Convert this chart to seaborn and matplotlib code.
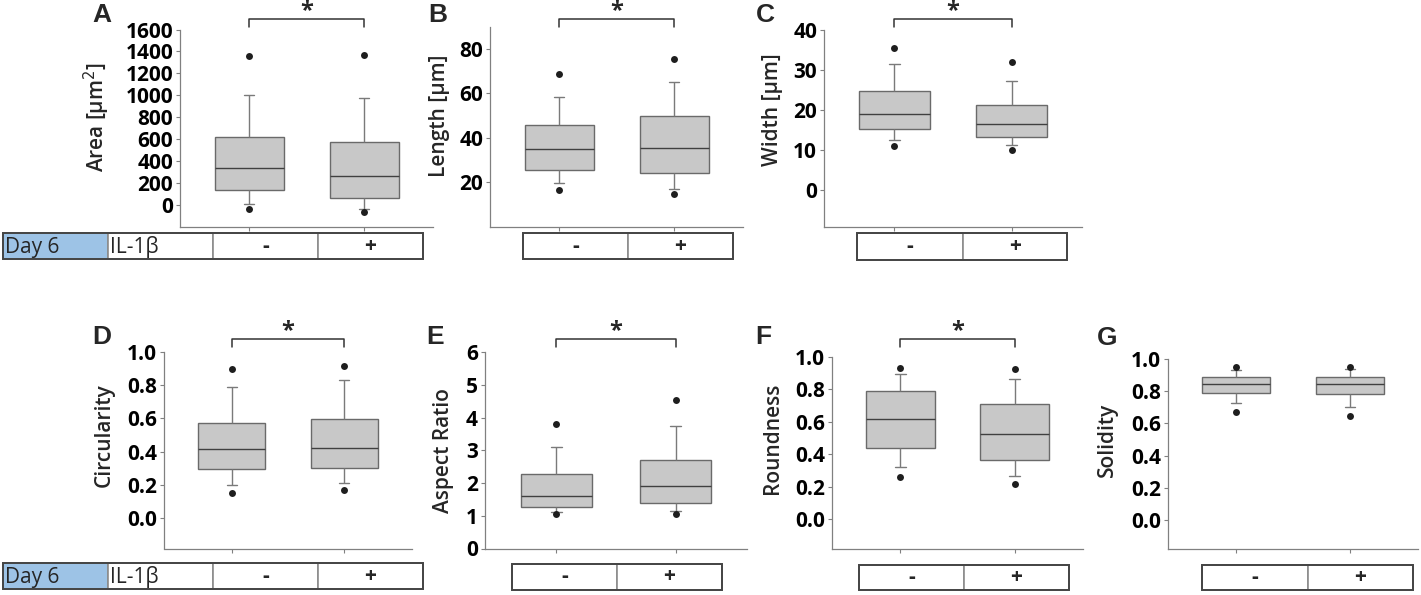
import numpy as np
import pandas as pd
import matplotlib
matplotlib.use("Agg")
import matplotlib.pyplot as plt
import matplotlib.transforms as mtransforms
from matplotlib.patches import Rectangle
import seaborn as sns

W, H = 1421, 595

groups = ["-", "+"]

# five-number summaries:
# low whisker, Q1, median, Q3, high whisker
area_minus = [15, 143, 344, 624, 1003]
area_plus = [-30, 70, 271, 579, 978]
length_minus = [19.4, 25.6, 35.0, 45.8, 58.4]
length_plus = [16.9, 24.1, 35.5, 49.7, 65.0]
width_minus = [12.4, 15.2, 18.9, 24.7, 31.4]
width_plus = [11.2, 13.25, 16.4, 21.3, 27.2]
circ_minus = [0.201, 0.297, 0.414, 0.570, 0.791]
circ_plus = [0.213, 0.303, 0.423, 0.594, 0.833]
aspect_minus = [1.11, 1.255, 1.61, 2.265, 3.11]
aspect_plus = [1.14, 1.387, 1.90, 2.71, 3.75]
round_minus = [0.32, 0.44, 0.615, 0.787, 0.891]
round_plus = [0.264, 0.365, 0.522, 0.71, 0.864]
solid_minus = [0.727, 0.789, 0.847, 0.892, 0.934]
solid_plus = [0.702, 0.783, 0.847, 0.892, 0.938]

# outlying dots (high, low) per group
area_dots = [[1362, -34], [1371, -64]]
length_dots = [[68.8, 16.6], [75.5, 14.6]]
width_dots = [[35.3, 11.1], [31.9, 10.1]]
circ_dots = [[0.898, 0.154], [0.916, 0.173]]
aspect_dots = [[3.81, 1.05], [4.55, 1.07]]
round_dots = [[0.928, 0.258], [0.922, 0.217]]
solid_dots = [[0.95, 0.671], [0.952, 0.646]]

letters = ["A", "B", "C", "D", "E", "F", "G"]
ylabels = ["Area [µm$^2$]", "Length [µm]", "Width [µm]", "Circularity",
           "Aspect Ratio", "Roundness", "Solidity"]
yticks = [np.arange(0, 1601, 200), np.arange(20, 81, 20), np.arange(0, 41, 10),
          np.arange(0, 1.01, 0.2), np.arange(0, 7, 1), np.arange(0, 1.01, 0.2),
          np.arange(0, 1.01, 0.2)]
tick_fmt = ["{:.0f}", "{:.0f}", "{:.0f}", "{:.1f}", "{:.0f}", "{:.1f}", "{:.1f}"]
ylims = [(-192, 1600), (0, 90), (-9, 40), (-0.18, 1.0), (0, 6),
         (-0.18, 1.0), (-0.18, 1.0)]
significant = [True, True, True, True, True, True, False]

boxes = [(area_minus, area_plus), (length_minus, length_plus),
         (width_minus, width_plus), (circ_minus, circ_plus),
         (aspect_minus, aspect_plus), (round_minus, round_plus),
         (solid_minus, solid_plus)]
dots = [area_dots, length_dots, width_dots, circ_dots, aspect_dots,
        round_dots, solid_dots]

# layout in figure pixels
axes_px = [(180, 433, 29.5, 226.5), (490, 743, 26.5, 226.5),
           (824, 1082, 29.5, 226.5), (164, 412, 351.7, 548.5),
           (485, 747, 352.3, 548.5), (832, 1083, 356.7, 548.5),
           (1168, 1418, 359.3, 548.5)]
letter_px = [(102, 15), (438, 15), (765, 15), (102, 337), (435, 337),
             (763, 337), (1107, 338)]
ylabel_x = [112, 450, 783, 115, 454, 783, 1118]
bracket_y = [19, 19, 19, 339, 339, 339, None]
table_px = [([3, 108, 213, 318, 423], 233, 259),
            ([523, 628, 733], 233, 259),
            ([857, 963, 1067], 233, 260),
            ([3, 108, 213, 318, 423], 563, 589),
            ([512, 617, 722], 564, 590),
            ([859, 964, 1069], 565, 590),
            ([1202, 1308, 1413], 565, 590)]

sns.set_theme(style="ticks")
plt.rcParams["font.family"] = ["Open Sans", "DejaVu Sans"]

fig = plt.figure(figsize=(W / 100, H / 100), dpi=100)

spine_col = "#808080"
box_face = "#c8c8c8"
box_edge = "#6a6a6a"

for i in range(7):
    l, r, t, b = axes_px[i]
    ax = fig.add_axes([l / W, 1 - b / H, (r - l) / W, (b - t) / H])
    df = pd.DataFrame({
        "group": [groups[0]] * 5 + [groups[1]] * 5,
        "value": list(boxes[i][0]) + list(boxes[i][1]),
    })
    sns.boxplot(data=df, x="group", y="value", order=groups, ax=ax,
                whis=(0, 100), width=0.6, color=box_face, linecolor=box_edge,
                linewidth=1.0, capwidths=0.09,
                medianprops={"color": "#404040", "linewidth": 1.0},
                whiskerprops={"color": "#7a7a7a"},
                capprops={"color": "#7a7a7a"})
    dot_df = pd.DataFrame({
        "group": [groups[0]] * 2 + [groups[1]] * 2,
        "value": list(dots[i][0]) + list(dots[i][1]),
    })
    sns.stripplot(data=dot_df, x="group", y="value", order=groups, ax=ax,
                  jitter=False, color="#1e1e1e", size=5, linewidth=0)

    ax.set_xlim(-0.6, 1.6)
    ax.set_ylim(*ylims[i])
    ax.set_yticks(yticks[i])
    ax.set_yticklabels([tick_fmt[i].format(v) for v in yticks[i]],
                       fontsize=15, fontweight="bold")
    ax.set_xticks([0, 1])
    ax.set_xticklabels([])
    ax.set_xlabel("")
    ax.set_ylabel(ylabels[i], fontsize=15, fontweight="semibold")
    lab_tr = mtransforms.blended_transform_factory(fig.transFigure, ax.transData)
    ax.yaxis.set_label_coords(ylabel_x[i] / W,
                              (yticks[i][0] + yticks[i][-1]) / 2,
                              transform=lab_tr)
    for s in ["top", "right"]:
        ax.spines[s].set_visible(False)
    for s in ["left", "bottom"]:
        ax.spines[s].set_color(spine_col)
        ax.spines[s].set_linewidth(0.9)
    ax.tick_params(axis="both", length=3, width=0.8, color=spine_col,
                   pad=2, labelcolor="black")
    ax.patch.set_alpha(0)

    # panel letter
    fig.text(letter_px[i][0] / W, 1 - letter_px[i][1] / H, letters[i],
             fontsize=19, fontweight="bold", family="Liberation Sans",
             ha="center", va="center")

    # significance bracket
    if significant[i]:
        tr = mtransforms.blended_transform_factory(ax.transData, fig.transFigure)
        yb = 1 - bracket_y[i] / H
        ytick = 1 - (bracket_y[i] + 8) / H
        ax.plot([0, 0, 1, 1], [ytick, yb, yb, ytick], transform=tr,
                color="#333333", lw=1.1, clip_on=False)
        ax.text(0.5, 1 - (bracket_y[i] - 8) / H, "*", transform=tr,
                ha="center", va="center", fontsize=17, fontweight="bold")

    # condition table underneath
    xs, ty, by = table_px[i]
    tax = fig.add_axes([xs[0] / W, 1 - by / H, (xs[-1] - xs[0]) / W,
                        (by - ty) / H])
    n = len(xs) - 1
    labels = (["Day 6", "IL-1β"] + groups) if n == 4 else groups
    tax.set_xlim(xs[0], xs[-1])
    tax.set_ylim(0, 1)
    tax.axis("off")
    for j, lab in enumerate(labels):
        fc = "#9dc3e6" if lab == "Day 6" else "white"
        tax.add_patch(Rectangle((xs[j], 0), xs[j + 1] - xs[j], 1, fc=fc,
                                ec="#8c8c8c", lw=1.2, clip_on=False))
        if lab in groups:
            tax.text((xs[j] + xs[j + 1]) / 2, 0.5, lab, ha="center",
                     va="center", fontsize=15, fontweight="bold")
        else:
            tax.text(xs[j] + 2, 0.45, lab, ha="left", va="center",
                     fontsize=15)
    tax.add_patch(Rectangle((xs[0], 0), xs[-1] - xs[0], 1, fill=False,
                            ec="#454545", lw=1.4, clip_on=False))

fig.savefig("out.png", dpi=100)
